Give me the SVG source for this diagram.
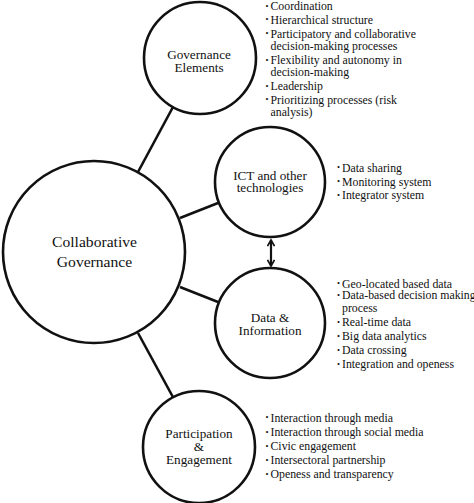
<svg xmlns="http://www.w3.org/2000/svg" width="474" height="503" viewBox="0 0 474 503">
<style>
.c{fill:#fff;stroke:#111;stroke-width:2.6}
.l{stroke:#111;stroke-width:2.6;fill:none}
text{font-family:"Liberation Serif","Times New Roman",serif;fill:#111}
.n{font-size:13.2px;text-anchor:middle}
.m{font-size:15.6px;text-anchor:middle}
.t{font-size:11.8px}
.b{font-size:8.5px}
</style>
<defs>
<marker id="ah" viewBox="0 0 10 10" refX="8" refY="5" markerWidth="4" markerHeight="4" orient="auto-start-reverse" markerUnits="strokeWidth">
<path d="M1,1 L8,5 L1,9" fill="none" stroke="#111" stroke-width="2"/>
</marker>
</defs>
<rect width="474" height="503" fill="#fff"/>
<g id="connectors">
<line class="l" x1="138" y1="172" x2="173" y2="107"/>
<line class="l" x1="180" y1="218" x2="218" y2="203"/>
<line class="l" x1="180" y1="287" x2="218" y2="302"/>
<line class="l" x1="138" y1="333" x2="174" y2="399"/>
<line x1="271" y1="240" x2="271" y2="266" stroke="#111" stroke-width="2.2" marker-start="url(#ah)" marker-end="url(#ah)"/>
</g>
<g id="central">
<circle class="c" cx="94" cy="252" r="91"/>
<text class="m" x="94.5" y="247">Collaborative</text>
<text class="m" x="94.5" y="267">Governance</text>
</g>
<g id="governance">
<circle class="c" cx="200" cy="58" r="56"/>
<text class="n" x="199" y="59">Governance</text>
<text class="n" x="199" y="72">Elements</text>
<g>
<text class="b" x="265.5" y="8.5">•</text><text class="t" x="270.5" y="10">Coordination</text>
<text class="b" x="265.5" y="22">•</text><text class="t" x="270.5" y="23.5">Hierarchical structure</text>
<text class="b" x="265.5" y="36">•</text><text class="t" x="270.5" y="37.5">Participatory and collaborative</text>
<text class="t" x="270.5" y="50">decision-making processes</text>
<text class="b" x="265.5" y="62.5">•</text><text class="t" x="270.5" y="64">Flexibility and autonomy in</text>
<text class="t" x="270.5" y="76">decision-making</text>
<text class="b" x="265.5" y="88.5">•</text><text class="t" x="270.5" y="90">Leadership</text>
<text class="b" x="265.5" y="102">•</text><text class="t" x="270.5" y="103.5">Prioritizing processes (risk</text>
<text class="t" x="270.5" y="116">analysis)</text>
</g>
</g>
<g id="ict">
<circle class="c" cx="270" cy="182" r="55"/>
<text class="n" x="270" y="179.5">ICT and other</text>
<text class="n" x="270" y="192">technologies</text>
<g>
<text class="b" x="337" y="170">•</text><text class="t" x="342" y="171.5">Data sharing</text>
<text class="b" x="337" y="184">•</text><text class="t" x="342" y="185.5">Monitoring system</text>
<text class="b" x="337" y="197.5">•</text><text class="t" x="342" y="199">Integrator system</text>
</g>
</g>
<g id="data">
<circle class="c" cx="270" cy="323" r="55"/>
<text class="n" x="270" y="322">Data &amp;</text>
<text class="n" x="270" y="334.5">Information</text>
<g>
<text class="b" x="337" y="286">•</text><text class="t" x="342" y="287.5">Geo-located based data</text>
<text class="b" x="337" y="297.5">•</text><text class="t" x="342" y="299">Data-based decision making</text>
<text class="t" x="342" y="311.5">process</text>
<text class="b" x="337" y="324.5">•</text><text class="t" x="342" y="326">Real-time data</text>
<text class="b" x="337" y="338.5">•</text><text class="t" x="342" y="340">Big data analytics</text>
<text class="b" x="337" y="352.5">•</text><text class="t" x="342" y="354">Data crossing</text>
<text class="b" x="337" y="366.5">•</text><text class="t" x="342" y="368">Integration and openess</text>
</g>
</g>
<g id="participation">
<circle class="c" cx="199" cy="447" r="56"/>
<text class="n" x="199" y="438">Participation</text>
<text class="n" x="199" y="450.5">&amp;</text>
<text class="n" x="199" y="464">Engagement</text>
<g>
<text class="b" x="265.5" y="420">•</text><text class="t" x="270.5" y="421.5">Interaction through media</text>
<text class="b" x="265.5" y="434.5">•</text><text class="t" x="270.5" y="436">Interaction through social media</text>
<text class="b" x="265.5" y="448.5">•</text><text class="t" x="270.5" y="450">Civic engagement</text>
<text class="b" x="265.5" y="462.5">•</text><text class="t" x="270.5" y="464">Intersectoral partnership</text>
<text class="b" x="265.5" y="476.5">•</text><text class="t" x="270.5" y="478">Openess and transparency</text>
</g>
</g>
</svg>
